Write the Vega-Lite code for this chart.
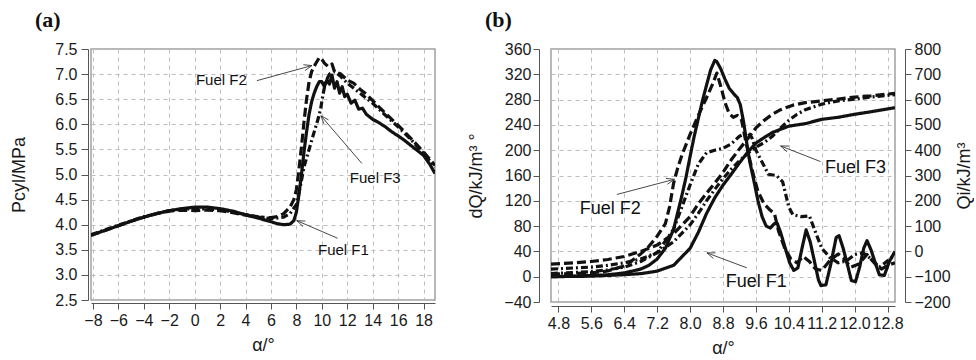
{
  "$schema": "https://vega.github.io/schema/vega-lite/v6.json",
  "background": "white",
  "padding": {"left": 10, "top": 8, "right": 0, "bottom": 0},
  "spacing": 31,
  "config": {
    "view": {"stroke": "#a0a0a0", "strokeWidth": 1.5},
    "axis": {
      "labelFont": "Liberation Sans", "labelFontSize": 16, "labelColor": "#1a1a1a",
      "titleFont": "Liberation Sans", "titleFontSize": 18, "titleFontWeight": "normal", "titleColor": "#1a1a1a",
      "domainColor": "#555", "tickColor": "#555", "tickSize": 6, "labelPadding": 3,
      "gridColor": "#bdbdbd", "gridDash": [4, 4], "gridWidth": 1
    },
    "text": {"font": "Liberation Sans"},
    "title": {"font": "Liberation Serif", "fontSize": 22, "fontWeight": "bold", "color": "#111", "anchor": "start", "frame": "group"}
  },
  "datasets": {
    "pa": [
      {"x": -8.15, "y": 3.79, "fuel": "F1"}, {"x": -7, "y": 3.89, "fuel": "F1"}, {"x": -6, "y": 3.98, "fuel": "F1"}, {"x": -5, "y": 4.07, "fuel": "F1"}, {"x": -4, "y": 4.15, "fuel": "F1"}, {"x": -3, "y": 4.22, "fuel": "F1"}, {"x": -2, "y": 4.28, "fuel": "F1"}, {"x": -1, "y": 4.32, "fuel": "F1"}, {"x": 0, "y": 4.35, "fuel": "F1"}, {"x": 1, "y": 4.35, "fuel": "F1"}, {"x": 2, "y": 4.32, "fuel": "F1"}, {"x": 3, "y": 4.27, "fuel": "F1"}, {"x": 4, "y": 4.2, "fuel": "F1"}, {"x": 5, "y": 4.13, "fuel": "F1"}, {"x": 6, "y": 4.06, "fuel": "F1"}, {"x": 6.5, "y": 4.02, "fuel": "F1"}, {"x": 7, "y": 4.0, "fuel": "F1"}, {"x": 7.5, "y": 4.01, "fuel": "F1"}, {"x": 7.8, "y": 4.08, "fuel": "F1"}, {"x": 8.0, "y": 4.25, "fuel": "F1"}, {"x": 8.2, "y": 4.6, "fuel": "F1"}, {"x": 8.4, "y": 5.0, "fuel": "F1"}, {"x": 8.6, "y": 5.45, "fuel": "F1"}, {"x": 8.8, "y": 5.85, "fuel": "F1"}, {"x": 9.0, "y": 6.2, "fuel": "F1"}, {"x": 9.2, "y": 6.45, "fuel": "F1"}, {"x": 9.4, "y": 6.62, "fuel": "F1"}, {"x": 9.6, "y": 6.75, "fuel": "F1"}, {"x": 9.8, "y": 6.85, "fuel": "F1"}, {"x": 10.0, "y": 6.85, "fuel": "F1"}, {"x": 10.2, "y": 6.75, "fuel": "F1"}, {"x": 10.4, "y": 6.88, "fuel": "F1"}, {"x": 10.6, "y": 6.8, "fuel": "F1"}, {"x": 10.8, "y": 6.98, "fuel": "F1"}, {"x": 11.0, "y": 6.72, "fuel": "F1"}, {"x": 11.2, "y": 6.85, "fuel": "F1"}, {"x": 11.4, "y": 6.62, "fuel": "F1"}, {"x": 11.6, "y": 6.75, "fuel": "F1"}, {"x": 11.8, "y": 6.55, "fuel": "F1"}, {"x": 12.0, "y": 6.6, "fuel": "F1"}, {"x": 12.3, "y": 6.42, "fuel": "F1"}, {"x": 12.6, "y": 6.48, "fuel": "F1"}, {"x": 12.9, "y": 6.3, "fuel": "F1"}, {"x": 13.2, "y": 6.32, "fuel": "F1"}, {"x": 13.5, "y": 6.2, "fuel": "F1"}, {"x": 14, "y": 6.1, "fuel": "F1"}, {"x": 14.5, "y": 6.03, "fuel": "F1"}, {"x": 15, "y": 5.95, "fuel": "F1"}, {"x": 15.5, "y": 5.85, "fuel": "F1"}, {"x": 16, "y": 5.77, "fuel": "F1"}, {"x": 16.5, "y": 5.68, "fuel": "F1"}, {"x": 17, "y": 5.58, "fuel": "F1"}, {"x": 17.5, "y": 5.48, "fuel": "F1"}, {"x": 18, "y": 5.38, "fuel": "F1"}, {"x": 18.5, "y": 5.2, "fuel": "F1"}, {"x": 18.9, "y": 5.02, "fuel": "F1"},
      {"x": -8.15, "y": 3.79, "fuel": "F2"}, {"x": -7, "y": 3.89, "fuel": "F2"}, {"x": -6, "y": 3.98, "fuel": "F2"}, {"x": -5, "y": 4.07, "fuel": "F2"}, {"x": -4, "y": 4.15, "fuel": "F2"}, {"x": -3, "y": 4.22, "fuel": "F2"}, {"x": -2, "y": 4.27, "fuel": "F2"}, {"x": -1, "y": 4.29, "fuel": "F2"}, {"x": 0, "y": 4.28, "fuel": "F2"}, {"x": 1, "y": 4.29, "fuel": "F2"}, {"x": 2, "y": 4.28, "fuel": "F2"}, {"x": 3, "y": 4.24, "fuel": "F2"}, {"x": 4, "y": 4.19, "fuel": "F2"}, {"x": 5, "y": 4.15, "fuel": "F2"}, {"x": 6, "y": 4.14, "fuel": "F2"}, {"x": 6.5, "y": 4.16, "fuel": "F2"}, {"x": 7, "y": 4.22, "fuel": "F2"}, {"x": 7.5, "y": 4.35, "fuel": "F2"}, {"x": 7.8, "y": 4.5, "fuel": "F2"}, {"x": 8.0, "y": 4.7, "fuel": "F2"}, {"x": 8.2, "y": 5.1, "fuel": "F2"}, {"x": 8.4, "y": 5.55, "fuel": "F2"}, {"x": 8.6, "y": 6.05, "fuel": "F2"}, {"x": 8.8, "y": 6.5, "fuel": "F2"}, {"x": 9.0, "y": 6.85, "fuel": "F2"}, {"x": 9.2, "y": 7.05, "fuel": "F2"}, {"x": 9.5, "y": 7.2, "fuel": "F2"}, {"x": 9.8, "y": 7.33, "fuel": "F2"}, {"x": 10.0, "y": 7.3, "fuel": "F2"}, {"x": 10.2, "y": 7.22, "fuel": "F2"}, {"x": 10.5, "y": 7.15, "fuel": "F2"}, {"x": 10.8, "y": 7.2, "fuel": "F2"}, {"x": 11.0, "y": 7.05, "fuel": "F2"}, {"x": 11.5, "y": 7.0, "fuel": "F2"}, {"x": 12, "y": 6.88, "fuel": "F2"}, {"x": 12.5, "y": 6.82, "fuel": "F2"}, {"x": 13, "y": 6.7, "fuel": "F2"}, {"x": 13.5, "y": 6.6, "fuel": "F2"}, {"x": 14, "y": 6.47, "fuel": "F2"}, {"x": 15, "y": 6.22, "fuel": "F2"}, {"x": 16, "y": 5.98, "fuel": "F2"}, {"x": 17, "y": 5.72, "fuel": "F2"}, {"x": 18, "y": 5.45, "fuel": "F2"}, {"x": 18.9, "y": 5.18, "fuel": "F2"},
      {"x": -8.15, "y": 3.8, "fuel": "F3"}, {"x": -6, "y": 3.99, "fuel": "F3"}, {"x": -4, "y": 4.16, "fuel": "F3"}, {"x": -2, "y": 4.28, "fuel": "F3"}, {"x": -1, "y": 4.31, "fuel": "F3"}, {"x": 0, "y": 4.32, "fuel": "F3"}, {"x": 2, "y": 4.3, "fuel": "F3"}, {"x": 4, "y": 4.2, "fuel": "F3"}, {"x": 6, "y": 4.12, "fuel": "F3"}, {"x": 7, "y": 4.15, "fuel": "F3"}, {"x": 7.5, "y": 4.22, "fuel": "F3"}, {"x": 8, "y": 4.4, "fuel": "F3"}, {"x": 8.3, "y": 4.75, "fuel": "F3"}, {"x": 8.6, "y": 5.15, "fuel": "F3"}, {"x": 9.0, "y": 5.5, "fuel": "F3"}, {"x": 9.4, "y": 5.85, "fuel": "F3"}, {"x": 9.7, "y": 6.1, "fuel": "F3"}, {"x": 9.9, "y": 6.3, "fuel": "F3"}, {"x": 10.1, "y": 6.6, "fuel": "F3"}, {"x": 10.3, "y": 6.85, "fuel": "F3"}, {"x": 10.6, "y": 7.0, "fuel": "F3"}, {"x": 11.0, "y": 7.05, "fuel": "F3"}, {"x": 11.5, "y": 6.95, "fuel": "F3"}, {"x": 12, "y": 6.82, "fuel": "F3"}, {"x": 13, "y": 6.62, "fuel": "F3"}, {"x": 14, "y": 6.42, "fuel": "F3"}, {"x": 15, "y": 6.18, "fuel": "F3"}, {"x": 16, "y": 5.95, "fuel": "F3"}, {"x": 17, "y": 5.7, "fuel": "F3"}, {"x": 18, "y": 5.42, "fuel": "F3"}, {"x": 18.9, "y": 5.15, "fuel": "F3"}
    ],
    "dq": [
      {"x": 4.62, "y": 0, "fuel": "F1"}, {"x": 5.2, "y": 1, "fuel": "F1"}, {"x": 5.6, "y": 2, "fuel": "F1"}, {"x": 6.0, "y": 3, "fuel": "F1"}, {"x": 6.4, "y": 6, "fuel": "F1"}, {"x": 6.8, "y": 12, "fuel": "F1"}, {"x": 7.0, "y": 18, "fuel": "F1"}, {"x": 7.2, "y": 28, "fuel": "F1"}, {"x": 7.4, "y": 45, "fuel": "F1"}, {"x": 7.6, "y": 75, "fuel": "F1"}, {"x": 7.8, "y": 128, "fuel": "F1"}, {"x": 7.9, "y": 157, "fuel": "F1"}, {"x": 8.0, "y": 190, "fuel": "F1"}, {"x": 8.1, "y": 222, "fuel": "F1"}, {"x": 8.2, "y": 250, "fuel": "F1"}, {"x": 8.3, "y": 278, "fuel": "F1"}, {"x": 8.4, "y": 303, "fuel": "F1"}, {"x": 8.5, "y": 327, "fuel": "F1"}, {"x": 8.6, "y": 342, "fuel": "F1"}, {"x": 8.65, "y": 340, "fuel": "F1"}, {"x": 8.75, "y": 328, "fuel": "F1"}, {"x": 8.85, "y": 312, "fuel": "F1"}, {"x": 8.95, "y": 298, "fuel": "F1"}, {"x": 9.05, "y": 290, "fuel": "F1"}, {"x": 9.15, "y": 283, "fuel": "F1"}, {"x": 9.22, "y": 272, "fuel": "F1"}, {"x": 9.3, "y": 245, "fuel": "F1"}, {"x": 9.38, "y": 210, "fuel": "F1"}, {"x": 9.45, "y": 182, "fuel": "F1"}, {"x": 9.55, "y": 152, "fuel": "F1"}, {"x": 9.65, "y": 120, "fuel": "F1"}, {"x": 9.75, "y": 95, "fuel": "F1"}, {"x": 9.85, "y": 80, "fuel": "F1"}, {"x": 9.95, "y": 77, "fuel": "F1"}, {"x": 10.05, "y": 84, "fuel": "F1"}, {"x": 10.12, "y": 84, "fuel": "F1"}, {"x": 10.2, "y": 70, "fuel": "F1"}, {"x": 10.3, "y": 48, "fuel": "F1"}, {"x": 10.42, "y": 22, "fuel": "F1"}, {"x": 10.52, "y": 10, "fuel": "F1"}, {"x": 10.62, "y": 14, "fuel": "F1"}, {"x": 10.72, "y": 45, "fuel": "F1"}, {"x": 10.82, "y": 74, "fuel": "F1"}, {"x": 10.92, "y": 55, "fuel": "F1"}, {"x": 11.02, "y": 25, "fuel": "F1"}, {"x": 11.12, "y": -5, "fuel": "F1"}, {"x": 11.18, "y": -14, "fuel": "F1"}, {"x": 11.3, "y": -13, "fuel": "F1"}, {"x": 11.42, "y": 20, "fuel": "F1"}, {"x": 11.55, "y": 62, "fuel": "F1"}, {"x": 11.62, "y": 65, "fuel": "F1"}, {"x": 11.72, "y": 45, "fuel": "F1"}, {"x": 11.82, "y": 20, "fuel": "F1"}, {"x": 11.92, "y": -6, "fuel": "F1"}, {"x": 12.02, "y": -8, "fuel": "F1"}, {"x": 12.12, "y": 15, "fuel": "F1"}, {"x": 12.22, "y": 45, "fuel": "F1"}, {"x": 12.3, "y": 57, "fuel": "F1"}, {"x": 12.4, "y": 42, "fuel": "F1"}, {"x": 12.5, "y": 22, "fuel": "F1"}, {"x": 12.6, "y": 3, "fuel": "F1"}, {"x": 12.72, "y": 2, "fuel": "F1"}, {"x": 12.85, "y": 25, "fuel": "F1"}, {"x": 12.98, "y": 40, "fuel": "F1"},
      {"x": 4.62, "y": 4, "fuel": "F2"}, {"x": 5.2, "y": 5, "fuel": "F2"}, {"x": 5.6, "y": 6, "fuel": "F2"}, {"x": 6.0, "y": 9, "fuel": "F2"}, {"x": 6.4, "y": 17, "fuel": "F2"}, {"x": 6.6, "y": 26, "fuel": "F2"}, {"x": 6.8, "y": 36, "fuel": "F2"}, {"x": 7.0, "y": 48, "fuel": "F2"}, {"x": 7.2, "y": 64, "fuel": "F2"}, {"x": 7.4, "y": 84, "fuel": "F2"}, {"x": 7.5, "y": 110, "fuel": "F2"}, {"x": 7.6, "y": 148, "fuel": "F2"}, {"x": 7.7, "y": 172, "fuel": "F2"}, {"x": 7.8, "y": 192, "fuel": "F2"}, {"x": 8.0, "y": 225, "fuel": "F2"}, {"x": 8.2, "y": 255, "fuel": "F2"}, {"x": 8.4, "y": 283, "fuel": "F2"}, {"x": 8.55, "y": 305, "fuel": "F2"}, {"x": 8.65, "y": 322, "fuel": "F2"}, {"x": 8.75, "y": 300, "fuel": "F2"}, {"x": 8.85, "y": 275, "fuel": "F2"}, {"x": 8.95, "y": 258, "fuel": "F2"}, {"x": 9.05, "y": 252, "fuel": "F2"}, {"x": 9.15, "y": 255, "fuel": "F2"}, {"x": 9.25, "y": 248, "fuel": "F2"}, {"x": 9.35, "y": 215, "fuel": "F2"}, {"x": 9.45, "y": 185, "fuel": "F2"}, {"x": 9.55, "y": 158, "fuel": "F2"}, {"x": 9.65, "y": 135, "fuel": "F2"}, {"x": 9.8, "y": 115, "fuel": "F2"}, {"x": 9.95, "y": 105, "fuel": "F2"}, {"x": 10.05, "y": 100, "fuel": "F2"}, {"x": 10.15, "y": 72, "fuel": "F2"}, {"x": 10.3, "y": 45, "fuel": "F2"}, {"x": 10.45, "y": 28, "fuel": "F2"}, {"x": 10.6, "y": 22, "fuel": "F2"}, {"x": 10.75, "y": 32, "fuel": "F2"}, {"x": 10.9, "y": 24, "fuel": "F2"}, {"x": 11.05, "y": 12, "fuel": "F2"}, {"x": 11.2, "y": 10, "fuel": "F2"}, {"x": 11.4, "y": 26, "fuel": "F2"}, {"x": 11.6, "y": 36, "fuel": "F2"}, {"x": 11.75, "y": 28, "fuel": "F2"}, {"x": 11.9, "y": 15, "fuel": "F2"}, {"x": 12.1, "y": 20, "fuel": "F2"}, {"x": 12.3, "y": 35, "fuel": "F2"}, {"x": 12.5, "y": 20, "fuel": "F2"}, {"x": 12.65, "y": 12, "fuel": "F2"}, {"x": 12.8, "y": 18, "fuel": "F2"}, {"x": 12.98, "y": 22, "fuel": "F2"},
      {"x": 4.62, "y": 5, "fuel": "F3"}, {"x": 5.6, "y": 8, "fuel": "F3"}, {"x": 6.0, "y": 11, "fuel": "F3"}, {"x": 6.4, "y": 15, "fuel": "F3"}, {"x": 6.8, "y": 24, "fuel": "F3"}, {"x": 7.2, "y": 38, "fuel": "F3"}, {"x": 7.6, "y": 75, "fuel": "F3"}, {"x": 7.8, "y": 110, "fuel": "F3"}, {"x": 8.0, "y": 145, "fuel": "F3"}, {"x": 8.2, "y": 178, "fuel": "F3"}, {"x": 8.4, "y": 196, "fuel": "F3"}, {"x": 8.6, "y": 200, "fuel": "F3"}, {"x": 8.8, "y": 203, "fuel": "F3"}, {"x": 9.0, "y": 210, "fuel": "F3"}, {"x": 9.2, "y": 222, "fuel": "F3"}, {"x": 9.4, "y": 228, "fuel": "F3"}, {"x": 9.5, "y": 220, "fuel": "F3"}, {"x": 9.6, "y": 200, "fuel": "F3"}, {"x": 9.8, "y": 175, "fuel": "F3"}, {"x": 9.9, "y": 162, "fuel": "F3"}, {"x": 10.1, "y": 160, "fuel": "F3"}, {"x": 10.25, "y": 150, "fuel": "F3"}, {"x": 10.4, "y": 110, "fuel": "F3"}, {"x": 10.5, "y": 98, "fuel": "F3"}, {"x": 10.7, "y": 95, "fuel": "F3"}, {"x": 10.9, "y": 96, "fuel": "F3"}, {"x": 11.05, "y": 70, "fuel": "F3"}, {"x": 11.2, "y": 45, "fuel": "F3"}, {"x": 11.4, "y": 30, "fuel": "F3"}, {"x": 11.6, "y": 22, "fuel": "F3"}, {"x": 11.8, "y": 25, "fuel": "F3"}, {"x": 12.0, "y": 35, "fuel": "F3"}, {"x": 12.2, "y": 38, "fuel": "F3"}, {"x": 12.4, "y": 28, "fuel": "F3"}, {"x": 12.6, "y": 15, "fuel": "F3"}, {"x": 12.8, "y": 25, "fuel": "F3"}, {"x": 12.98, "y": 35, "fuel": "F3"}
    ],
    "qi": [
      {"x": 4.62, "q": -100, "fuel": "F1"}, {"x": 5.6, "q": -98, "fuel": "F1"}, {"x": 6.4, "q": -92, "fuel": "F1"}, {"x": 6.8, "q": -88, "fuel": "F1"}, {"x": 7.2, "q": -78, "fuel": "F1"}, {"x": 7.6, "q": -55, "fuel": "F1"}, {"x": 8.0, "q": 12, "fuel": "F1"}, {"x": 8.2, "q": 75, "fuel": "F1"}, {"x": 8.4, "q": 150, "fuel": "F1"}, {"x": 8.6, "q": 212, "fuel": "F1"}, {"x": 8.8, "q": 262, "fuel": "F1"}, {"x": 9.0, "q": 305, "fuel": "F1"}, {"x": 9.2, "q": 350, "fuel": "F1"}, {"x": 9.4, "q": 392, "fuel": "F1"}, {"x": 9.6, "q": 428, "fuel": "F1"}, {"x": 9.8, "q": 450, "fuel": "F1"}, {"x": 10.0, "q": 470, "fuel": "F1"}, {"x": 10.4, "q": 495, "fuel": "F1"}, {"x": 10.8, "q": 505, "fuel": "F1"}, {"x": 11.2, "q": 522, "fuel": "F1"}, {"x": 11.6, "q": 530, "fuel": "F1"}, {"x": 12.0, "q": 542, "fuel": "F1"}, {"x": 12.4, "q": 552, "fuel": "F1"}, {"x": 12.98, "q": 568, "fuel": "F1"},
      {"x": 4.62, "q": -50, "fuel": "F2"}, {"x": 5.2, "q": -45, "fuel": "F2"}, {"x": 5.6, "q": -40, "fuel": "F2"}, {"x": 6.0, "q": -32, "fuel": "F2"}, {"x": 6.4, "q": -20, "fuel": "F2"}, {"x": 6.8, "q": 0, "fuel": "F2"}, {"x": 7.2, "q": 25, "fuel": "F2"}, {"x": 7.6, "q": 70, "fuel": "F2"}, {"x": 8.0, "q": 138, "fuel": "F2"}, {"x": 8.2, "q": 188, "fuel": "F2"}, {"x": 8.4, "q": 230, "fuel": "F2"}, {"x": 8.6, "q": 270, "fuel": "F2"}, {"x": 8.8, "q": 312, "fuel": "F2"}, {"x": 9.0, "q": 362, "fuel": "F2"}, {"x": 9.2, "q": 405, "fuel": "F2"}, {"x": 9.4, "q": 445, "fuel": "F2"}, {"x": 9.6, "q": 488, "fuel": "F2"}, {"x": 9.8, "q": 518, "fuel": "F2"}, {"x": 10.0, "q": 542, "fuel": "F2"}, {"x": 10.2, "q": 560, "fuel": "F2"}, {"x": 10.5, "q": 578, "fuel": "F2"}, {"x": 10.8, "q": 588, "fuel": "F2"}, {"x": 11.2, "q": 595, "fuel": "F2"}, {"x": 11.6, "q": 602, "fuel": "F2"}, {"x": 12.0, "q": 610, "fuel": "F2"}, {"x": 12.4, "q": 615, "fuel": "F2"}, {"x": 12.98, "q": 625, "fuel": "F2"},
      {"x": 4.62, "q": -70, "fuel": "F3"}, {"x": 5.6, "q": -62, "fuel": "F3"}, {"x": 6.0, "q": -55, "fuel": "F3"}, {"x": 6.4, "q": -45, "fuel": "F3"}, {"x": 6.8, "q": -30, "fuel": "F3"}, {"x": 7.2, "q": -5, "fuel": "F3"}, {"x": 7.6, "q": 38, "fuel": "F3"}, {"x": 8.0, "q": 105, "fuel": "F3"}, {"x": 8.2, "q": 150, "fuel": "F3"}, {"x": 8.4, "q": 200, "fuel": "F3"}, {"x": 8.6, "q": 245, "fuel": "F3"}, {"x": 8.8, "q": 288, "fuel": "F3"}, {"x": 9.0, "q": 325, "fuel": "F3"}, {"x": 9.2, "q": 358, "fuel": "F3"}, {"x": 9.4, "q": 388, "fuel": "F3"}, {"x": 9.6, "q": 412, "fuel": "F3"}, {"x": 9.8, "q": 430, "fuel": "F3"}, {"x": 10.0, "q": 455, "fuel": "F3"}, {"x": 10.2, "q": 488, "fuel": "F3"}, {"x": 10.4, "q": 518, "fuel": "F3"}, {"x": 10.6, "q": 542, "fuel": "F3"}, {"x": 10.8, "q": 560, "fuel": "F3"}, {"x": 11.2, "q": 582, "fuel": "F3"}, {"x": 11.6, "q": 595, "fuel": "F3"}, {"x": 12.0, "q": 602, "fuel": "F3"}, {"x": 12.4, "q": 610, "fuel": "F3"}, {"x": 12.98, "q": 620, "fuel": "F3"}
    ],
    "arrA": [
      {"x": 4.9, "y": 6.87, "x2": 9.22, "y2": 7.17}, {"x": 8.673, "y": 7.07, "x2": 9.22, "y2": 7.17}, {"x": 8.548, "y": 7.186, "x2": 9.22, "y2": 7.17},
      {"x": 13.15, "y": 5.22, "x2": 9.93, "y2": 6.17}, {"x": 10.52, "y": 6.089, "x2": 9.93, "y2": 6.17}, {"x": 10.16, "y": 6.011, "x2": 9.93, "y2": 6.17},
      {"x": 11.24, "y": 3.73, "x2": 8.04, "y2": 4.08}, {"x": 8.709, "y": 4.072, "x2": 8.04, "y2": 4.08}, {"x": 8.522, "y": 3.963, "x2": 8.04, "y2": 4.08}
    ],
    "arrB": [
      {"x": 6.22, "y": 130, "x2": 7.62, "y2": 154}, {"x": 7.449, "y": 146.2, "x2": 7.62, "y2": 154}, {"x": 7.412, "y": 155.4, "x2": 7.62, "y2": 154},
      {"x": 11.17, "y": 182, "x2": 10.2, "y2": 206.7}, {"x": 10.407, "y": 206.5, "x2": 10.2, "y2": 206.7}, {"x": 10.354, "y": 197.6, "x2": 10.2, "y2": 206.7},
      {"x": 9.38, "y": 14, "x2": 8.41, "y2": 37.7}, {"x": 8.618, "y": 37.7, "x2": 8.41, "y2": 37.7}, {"x": 8.567, "y": 28.8, "x2": 8.41, "y2": 37.7}
    ],
    "lblA": [
      {"x": 2.1, "y": 6.89, "t": "Fuel F2"}, {"x": 14.2, "y": 4.94, "t": "Fuel F3"}, {"x": 11.7, "y": 3.49, "t": "Fuel F1"}
    ],
    "lblB": [
      {"x": 6.06, "y": 107, "t": "Fuel F2"}, {"x": 12.02, "y": 172, "t": "Fuel F3"}, {"x": 9.61, "y": -9, "t": "Fuel F1"}
    ]
  },
  "hconcat": [
    {
      "width": 344, "height": 251,
      "title": {"text": "(a)", "dx": -56, "offset": 9},
      "encoding": {
        "x": {"field": "x", "type": "quantitative", "scale": {"domain": [-8.15, 18.9], "nice": false, "zero": false},
              "axis": {"values": [-8, -6, -4, -2, 0, 2, 4, 6, 8, 10, 12, 14, 16, 18], "title": "α/°", "offset": 3, "titlePadding": 8, "labelOverlap": false, "labelFlush": false}},
        "y": {"field": "y", "type": "quantitative", "scale": {"domain": [2.5, 7.5], "nice": false, "zero": false},
              "axis": {"values": [2.5, 3, 3.5, 4, 4.5, 5, 5.5, 6, 6.5, 7, 7.5], "format": ".1f", "title": "Pcyl/MPa", "offset": 3, "tickSize": 7, "labelPadding": 4, "titlePadding": 26, "labelOverlap": false, "labelFlush": false}}
      },
      "layer": [
        {
          "data": {"name": "pa"},
          "mark": {"type": "line", "color": "#111", "strokeJoin": "round", "clip": true},
          "encoding": {
            "strokeDash": {"field": "fuel", "type": "nominal", "scale": {"domain": ["F1", "F2", "F3"], "range": [[1, 0], [9, 4], [7, 3, 2, 3]]}, "legend": null},
            "strokeWidth": {"field": "fuel", "type": "ordinal", "scale": {"domain": ["F1", "F2", "F3"], "range": [3.2, 3.2, 1.6]}, "legend": null}
          }
        },
        {
          "data": {"name": "arrA"},
          "mark": {"type": "rule", "color": "#333", "strokeWidth": 0.9},
          "encoding": {"x2": {"field": "x2"}, "y2": {"field": "y2"}}
        },
        {
          "data": {"name": "lblA"},
          "mark": {"type": "text", "fontSize": 15, "color": "#111", "align": "center", "baseline": "middle"},
          "encoding": {"text": {"field": "t"}}
        }
      ]
    },
    {
      "width": 344, "height": 253,
      "title": {"text": "(b)", "dx": -66, "offset": 9},
      "encoding": {
        "x": {"field": "x", "type": "quantitative", "scale": {"domain": [4.62, 12.98], "nice": false, "zero": false},
              "axis": {"values": [4.8, 5.6, 6.4, 7.2, 8.0, 8.8, 9.6, 10.4, 11.2, 12.0, 12.8], "format": ".1f", "title": "α/°", "offset": 4, "titlePadding": 8, "labelOverlap": false, "labelFlush": false}}
      },
      "layer": [
        {
          "encoding": {
            "y": {"field": "y", "type": "quantitative", "scale": {"domain": [-40, 360], "nice": false, "zero": false},
                  "axis": {"values": [-40, 0, 40, 80, 120, 160, 200, 240, 280, 320, 360], "title": "dQ/kJ/m³ °", "offset": 12, "labelPadding": 2, "titlePadding": 18, "labelOverlap": false, "labelFlush": false}}
          },
          "layer": [
            {
              "data": {"name": "dq"},
              "mark": {"type": "line", "color": "#111", "strokeJoin": "round", "clip": true},
              "encoding": {
                "strokeDash": {"field": "fuel", "type": "nominal", "scale": {"domain": ["F1", "F2", "F3"], "range": [[1, 0], [9, 4], [7, 3, 2, 3]]}, "legend": null},
                "strokeWidth": {"field": "fuel", "type": "ordinal", "scale": {"domain": ["F1", "F2", "F3"], "range": [3.2, 3.2, 1.6]}, "legend": null}
              }
            },
            {
              "data": {"name": "arrB"},
              "mark": {"type": "rule", "color": "#333", "strokeWidth": 0.9},
              "encoding": {"x2": {"field": "x2"}, "y2": {"field": "y2"}}
            },
            {
              "data": {"name": "lblB"},
              "mark": {"type": "text", "fontSize": 18, "color": "#111", "align": "center", "baseline": "middle"},
              "encoding": {"text": {"field": "t"}}
            }
          ]
        },
        {
          "data": {"name": "qi"},
          "mark": {"type": "line", "color": "#111", "strokeJoin": "round", "clip": true},
          "encoding": {
            "y": {"field": "q", "type": "quantitative", "scale": {"domain": [-200, 800], "nice": false, "zero": false},
                  "axis": {"orient": "right", "values": [-200, -100, 0, 100, 200, 300, 400, 500, 600, 700, 800], "title": "Qi/kJ/m³", "titleAngle": 270, "titleBaseline": "top", "grid": false, "offset": 10, "labelPadding": 3, "titlePadding": 5, "labelOverlap": false, "labelFlush": false}},
            "strokeDash": {"field": "fuel", "type": "nominal", "scale": {"domain": ["F1", "F2", "F3"], "range": [[1, 0], [9, 4], [7, 3, 2, 3]]}, "legend": null},
            "strokeWidth": {"field": "fuel", "type": "ordinal", "scale": {"domain": ["F1", "F2", "F3"], "range": [3.2, 3.2, 1.6]}, "legend": null}
          }
        }
      ],
      "resolve": {"scale": {"y": "independent"}}
    }
  ]
}
